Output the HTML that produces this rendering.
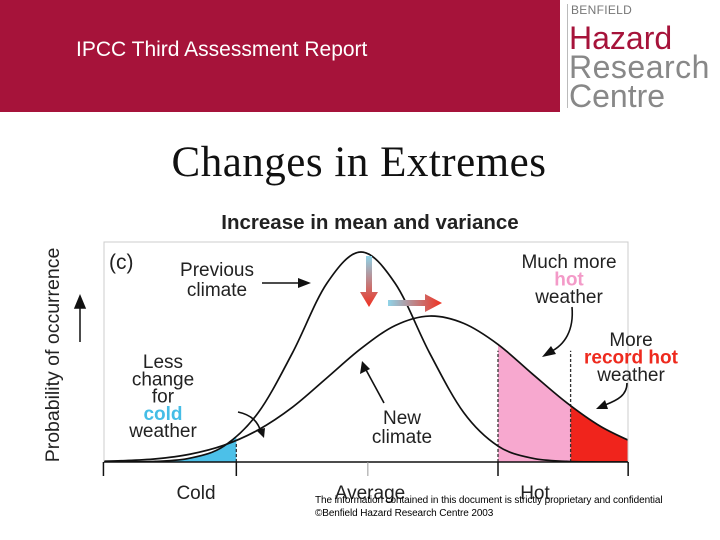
<!DOCTYPE html>
<html><head><meta charset="utf-8"><style>
html,body{margin:0;padding:0;background:#fff;}
body{width:720px;height:540px;position:relative;overflow:hidden;font-family:"Liberation Sans",Arial,sans-serif;}
.banner{position:absolute;left:0;top:0;width:560px;height:112px;background:#a6133a;}
.banner-title{position:absolute;left:76px;top:38px;color:#fff;font-size:21px;}
.logo{position:absolute;left:560px;top:0;width:160px;height:112px;background:#fff;}
.logo-line{position:absolute;left:7px;top:4px;width:1px;height:104px;background:#bbb;}
.footer{position:absolute;left:315px;font-size:10px;color:#000;letter-spacing:-0.1px;white-space:nowrap;}
</style></head><body>
<div class="banner">
  <div class="banner-title">IPCC Third Assessment Report</div>
</div>
<div class="logo">
  <div class="logo-line"></div>
  <div style="position:absolute;left:11px;top:3px;font-size:12px;color:#777;letter-spacing:0.3px">BENFIELD</div>
  <div style="position:absolute;left:9px;top:22px;font-size:32px;color:#a6133a;line-height:32px">Hazard</div>
  <div style="position:absolute;left:9px;top:51px;font-size:32px;color:#888;line-height:32px;letter-spacing:0.5px">Research</div>
  <div style="position:absolute;left:9px;top:80px;font-size:32px;color:#888;line-height:32px">Centre</div>
</div>
<svg width="720" height="540" style="position:absolute;left:0;top:0">
<defs>
 <clipPath id="plotclip"><rect x="104" y="242" width="524" height="220"/></clipPath>
 <linearGradient id="gv" x1="0" y1="0" x2="0" y2="1"><stop offset="0" stop-color="#8fd3e8"/><stop offset="1" stop-color="#f03020"/></linearGradient>
 <linearGradient id="gh" x1="0" y1="0" x2="1" y2="0"><stop offset="0" stop-color="#8fd3e8"/><stop offset="1" stop-color="#f03020"/></linearGradient>
</defs>
<text x="359" y="176" text-anchor="middle" font-family="Liberation Serif,serif" font-size="43" letter-spacing="0.5" fill="#111">Changes in Extremes</text>
<text x="370" y="229" text-anchor="middle" font-size="20.5" font-weight="bold" fill="#222">Increase in mean and variance</text>
<g id="plot"></g>
</svg>
<div class="footer" style="top:495px">The information contained in this document is strictly proprietary and confidential</div>
<div class="footer" style="top:508px">©Benfield Hazard Research Centre 2003</div>
<script>
const temps=[-2,-1.75,-1.5,-1.25,-1,-0.75,-0.5,-0.25,0,0.25,0.5,0.75,1,1.25,1.5,1.75,2];
const previousClimate=[0,0.0004,0.003,0.018,0.076,0.235,0.52,0.85,1,0.85,0.52,0.235,0.076,0.018,0.003,0.0004,0];
const newClimate=[0.002,0.006,0.015,0.037,0.08,0.153,0.261,0.40,0.54,0.65,0.695,0.66,0.56,0.42,0.283,0.169,0.089];
const tickTemps=[-1.88,-0.91,0.05,1,1.95];
const tickLabels=["","Cold","Average","Hot",""];
const coldLimit=-0.91, hotLimit=1, recordLimit=1.53;

const NS='http://www.w3.org/2000/svg';
const X=t=>361+(t)*137;
const Y=p=>462-p*210;
const g=document.getElementById('plot');
function el(tag,attrs,parent){const e=document.createElementNS(NS,tag);for(const k in attrs)e.setAttribute(k,attrs[k]);(parent||g).appendChild(e);return e;}
function curvePath(vals){
  const pts=temps.map((t,i)=>[X(t),Y(vals[i])]);
  let d='M'+pts[0][0]+','+pts[0][1];
  for(let i=0;i<pts.length-1;i++){
    const p0=pts[Math.max(0,i-1)],p1=pts[i],p2=pts[i+1],p3=pts[Math.min(pts.length-1,i+2)];
    const c1=[p1[0]+(p2[0]-p0[0])/6,p1[1]+(p2[1]-p0[1])/6];
    const c2=[p2[0]-(p3[0]-p1[0])/6,p2[1]-(p3[1]-p1[1])/6];
    d+=' C'+c1[0]+','+c1[1]+' '+c2[0]+','+c2[1]+' '+p2[0]+','+p2[1];
  }
  return d;
}
function areaPath(vals){return curvePath(vals)+' L'+X(temps[temps.length-1])+','+Y(0)+' L'+X(temps[0])+','+Y(0)+' Z';}
function clipRect(id,t0,t1){const cp=el('clipPath',{id:id});el('rect',{x:X(t0),y:230,width:X(t1)-X(t0),height:240},cp);return 'url(#'+id+')';}
const inner=el('g',{'clip-path':'url(#plotclip)'});
const cold=el('path',{d:areaPath(previousClimate),fill:'#4cc0e8','clip-path':clipRect('cc',-3,coldLimit)},inner);


const hot=el('path',{d:areaPath(newClimate),fill:'#f7a8cf','clip-path':clipRect('hc',hotLimit,recordLimit)},inner);


const rec=el('path',{d:areaPath(newClimate),fill:'#f0241c','clip-path':clipRect('rc',recordLimit,3)},inner);


[coldLimit,hotLimit,recordLimit].forEach(t=>{
  const l=el('line',{x1:X(t),x2:X(t),y1:Y(0),y2:(t===coldLimit?Y(0.09):Y(0.53)),stroke:'#333','stroke-width':1.3,'stroke-dasharray':'3,2'},inner);
  
  
});
const pc=el('path',{d:curvePath(previousClimate),fill:'none',stroke:'#111','stroke-width':1.7},inner);


const nc=el('path',{d:curvePath(newClimate),fill:'none',stroke:'#111','stroke-width':1.7},inner);


const fr=el('path',{d:'M104,462 L104,242 L628,242 L628,462',fill:'none',stroke:'#ccc','stroke-width':1});


const ax=el('line',{x1:104,x2:628,y1:462,y2:462,stroke:'#111','stroke-width':1.5});


tickTemps.forEach((t,i)=>{
  const tk=el('line',{x1:X(t),x2:X(t),y1:462,y2:476,stroke:i===2?'#999':'#111','stroke-width':i===2?1:1.5});
  
  
  if(tickLabels[i]){
    const tx=el('text',{x:(i===1?196:i===2?370:535),y:499,'text-anchor':'middle','font-size':19,fill:'#222'});
    tx.textContent=tickLabels[i];
    
    
  }
});
const yl=el('text',{x:0,y:0,transform:'translate(59,355) rotate(-90)','text-anchor':'middle','font-size':19.5,fill:'#222'});
yl.textContent='Probability of occurrence';


const ya=el('path',{d:'M80,342 L80,302 M75,308 L80,296 L85,308 Z',stroke:'#111','stroke-width':1.5,fill:'#111'});


function label(lines,x,y,name,colors,dy){
  const t=el('text',{x:x,y:y,'text-anchor':'middle','font-size':19,fill:'#222'});
  lines.forEach((s,i)=>{const ts=el('tspan',{x:x,dy:i?(dy||17.5):0},t);ts.textContent=s;if(colors&&colors[i]){ts.setAttribute('fill',colors[i]);ts.setAttribute('font-weight','bold');}});
  
  
}
const cl=el('text',{x:109,y:269,'font-size':21,fill:'#222'});cl.textContent='(c)';


label(['Previous','climate'],217,276,'previous-climate-label',null,20);
label(['Much more','hot','weather'],569,268,'hot-weather-label',[null,'#f39ac8',null]);
label(['More','record hot','weather'],631,346,'record-hot-label',[null,'#ee2a1e',null]);
label(['Less','change','for','cold','weather'],163,368,'cold-weather-label',[null,null,null,'#45bde6',null],17.3);
label(['New','climate'],402,424,'new-climate-label',null,19);
function arrow(d,tip,name){const p=el('path',{d:d,fill:'none',stroke:'#111','stroke-width':1.6});
  const h=el('path',{d:tip,fill:'#111'});}
arrow('M262,283 L300,283','M311,283 L298,278 L298,288 Z','previous-climate-arrow');
arrow('M384,403 L365,368','M362,361 L360,374 L370,369 Z','new-climate-arrow');
arrow('M572,307 C574,330 565,345 550,352','M542,357 L551,346 L556,354 Z','hot-arrow');
arrow('M627,383 C627,395 618,400 605,405','M596,409 L605,400 L608,409 Z','record-hot-arrow');
arrow('M238,412 C252,415 258,422 261,432','M264,438 L256,430 L265,428 Z','cold-arrow');
const va=el('path',{d:'M366,256 L372,256 L372,292 L378,292 L369,307 L360,292 L366,292 Z',fill:'url(#gv)'});


const ha=el('path',{d:'M388,300 L425,300 L425,294 L442,303 L425,312 L425,306 L388,306 Z',fill:'url(#gh)'});


</script>
</body></html>
